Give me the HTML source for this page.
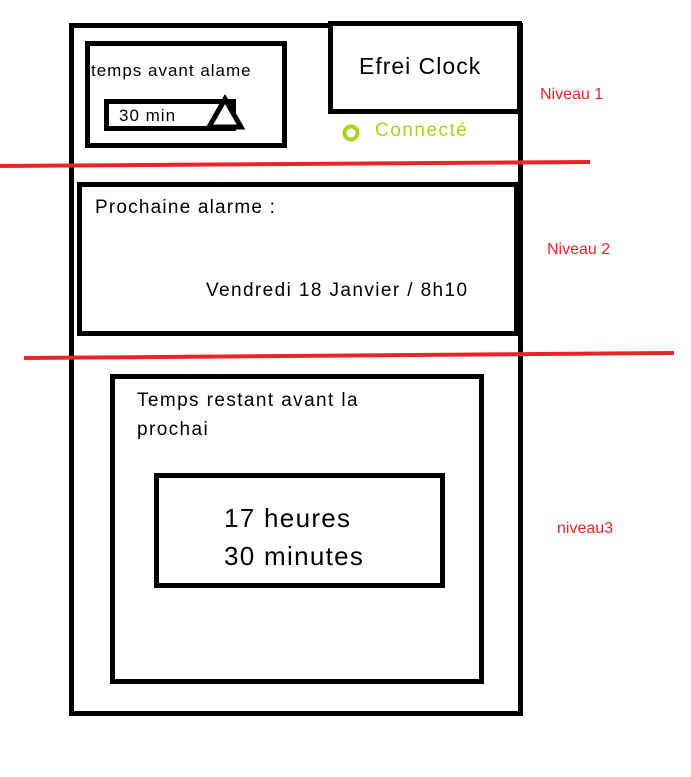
<!DOCTYPE html>
<html><head><style>
body{margin:0;width:691px;height:777px;background:#fff;position:relative;overflow:hidden;font-family:"Liberation Sans",sans-serif;}
.b{position:absolute;border:5px solid #000;box-sizing:border-box;}
.t{position:absolute;white-space:nowrap;color:#000;letter-spacing:1.3px;}
.r{position:absolute;color:#e8242b;font-size:16px;}
</style></head><body>
<div class="b" style="left:69px;top:23px;width:454px;height:693px"></div>
<div class="b" style="left:328px;top:21px;width:194px;height:93px;background:#fff"></div>
<div class="b" style="left:85px;top:41px;width:202px;height:107px"></div>
<div class="b" style="left:104px;top:99px;width:132px;height:32px"></div>
<svg style="position:absolute;left:0;top:0" width="691" height="777">
<polygon points="225,99 209,127 241,127" fill="#fff" stroke="#000" stroke-width="5"/>
<line x1="0" y1="166" x2="590" y2="162" stroke="#e8242b" stroke-width="4"/>
<line x1="24" y1="358" x2="674" y2="353" stroke="#e8242b" stroke-width="4"/>
<circle cx="351" cy="133" r="6.5" fill="none" stroke="#a8d41c" stroke-width="4"/>
</svg>
<div class="b" style="left:77px;top:182px;width:442px;height:154px"></div>
<div class="b" style="left:110px;top:374px;width:374px;height:310px"></div>
<div class="b" style="left:154px;top:473px;width:291px;height:115px"></div>
<div class="t" style="left:91px;top:61px;font-size:17px;letter-spacing:1px">temps avant alame</div>
<div class="t" style="left:119px;top:106px;font-size:17px;letter-spacing:1px">30 min</div>
<div class="t" style="left:359px;top:53px;font-size:23px;letter-spacing:1px">Efrei Clock</div>
<div class="t" style="left:375px;top:120px;font-size:19px;color:#a8d41c;letter-spacing:1.5px">Connecté</div>
<div class="t" style="left:95px;top:197px;font-size:19px;letter-spacing:1.2px">Prochaine alarme :</div>
<div class="t" style="left:206px;top:280px;font-size:19px;letter-spacing:1.4px">Vendredi 18 Janvier / 8h10</div>
<div class="t" style="left:137px;top:386px;font-size:19px;line-height:29px;letter-spacing:1.4px">Temps restant avant la<br>prochai</div>
<div class="t" style="left:224px;top:499px;font-size:26px;line-height:38px;letter-spacing:1.3px">17 heures<br>30 minutes</div>
<div class="r" style="left:540px;top:86px">Niveau 1</div>
<div class="r" style="left:547px;top:241px">Niveau 2</div>
<div class="r" style="left:557px;top:520px">niveau3</div>
</body></html>
